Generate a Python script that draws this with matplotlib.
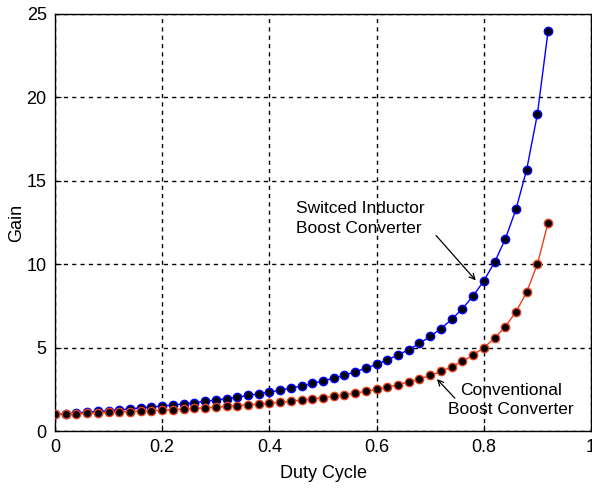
import matplotlib
matplotlib.use("Agg")
import matplotlib.pyplot as plt

duty = [0.00, 0.02, 0.04, 0.06, 0.08, 0.10, 0.12, 0.14, 0.16, 0.18,
        0.20, 0.22, 0.24, 0.26, 0.28, 0.30, 0.32, 0.34, 0.36, 0.38,
        0.40, 0.42, 0.44, 0.46, 0.48, 0.50, 0.52, 0.54, 0.56, 0.58,
        0.60, 0.62, 0.64, 0.66, 0.68, 0.70, 0.72, 0.74, 0.76, 0.78,
        0.80, 0.82, 0.84, 0.86, 0.88, 0.90, 0.92]

gain_switched = [1.00, 1.04, 1.08, 1.13, 1.17, 1.22, 1.27, 1.33, 1.38, 1.44,
                 1.50, 1.56, 1.63, 1.70, 1.78, 1.86, 1.94, 2.03, 2.13, 2.23,
                 2.33, 2.45, 2.57, 2.70, 2.85, 3.00, 3.17, 3.35, 3.55, 3.76,
                 4.00, 4.26, 4.56, 4.88, 5.25, 5.67, 6.14, 6.69, 7.33, 8.09,
                 9.00, 10.11, 11.50, 13.29, 15.67, 19.00, 24.00]

gain_conventional = [1.00, 1.02, 1.04, 1.06, 1.09, 1.11, 1.14, 1.16, 1.19, 1.22,
                     1.25, 1.28, 1.32, 1.35, 1.39, 1.43, 1.47, 1.52, 1.56, 1.61,
                     1.67, 1.72, 1.79, 1.85, 1.92, 2.00, 2.08, 2.17, 2.27, 2.38,
                     2.50, 2.63, 2.78, 2.94, 3.13, 3.33, 3.57, 3.85, 4.17, 4.55,
                     5.00, 5.56, 6.25, 7.14, 8.33, 10.00, 12.50]

xticks = [0, 0.2, 0.4, 0.6, 0.8, 1]
xticklabels = ["0", "0.2", "0.4", "0.6", "0.8", "1"]
yticks = [0, 5, 10, 15, 20, 25]
yticklabels = ["0", "5", "10", "15", "20", "25"]

plt.rcParams['font.family'] = ['Liberation Sans', 'DejaVu Sans']

fig = plt.figure(figsize=(5.92, 4.97), dpi=100)
ax = fig.add_axes([55/592, 1 - 431/497, 536/592, (431 - 14)/497])

ax.plot(duty, gain_switched, color='blue', lw=1.0, marker='o', markersize=6,
        markerfacecolor='black', markeredgecolor='blue', markeredgewidth=1.0, zorder=3)
ax.plot(duty, gain_conventional, color='#e8401c', lw=1.0, marker='o', markersize=6,
        markerfacecolor='black', markeredgecolor='#e8401c', markeredgewidth=1.0, zorder=3)

ax.set_xlim(0, 1)
ax.set_ylim(0, 25)
ax.set_xticks(xticks)
ax.set_xticklabels(xticklabels)
ax.set_yticks(yticks)
ax.set_yticklabels(yticklabels)
ax.tick_params(direction='in', length=4, labelsize=13, colors='black', pad=6)
ax.grid(True, color='black', linestyle=(0, (3, 3)), linewidth=1.0)
for s in ax.spines.values():
    s.set_linewidth(1.0)

ax.set_xlabel("Duty Cycle", fontsize=13, labelpad=6)
ax.set_ylabel("Gain", fontsize=13, labelpad=1)

ax.text(0.450, 12.74, "Switced Inductor\nBoost Converter", fontsize=12.5,
        ha='left', va='center', linespacing=1.35)
ax.annotate("", xy=(0.785, 9.03), xytext=(0.711, 11.72),
            arrowprops=dict(arrowstyle='->', color='black', lw=0.9, shrinkA=0, shrinkB=0))

ax.text(0.850, 1.85, "Conventional\nBoost Converter", fontsize=12.5,
        ha='center', va='center', linespacing=1.35, multialignment='center')
ax.annotate("", xy=(0.7126, 3.11), xytext=(0.746, 1.97),
            arrowprops=dict(arrowstyle='->', color='black', lw=0.9, shrinkA=0, shrinkB=0))

fig.savefig("out.png", dpi=100)
